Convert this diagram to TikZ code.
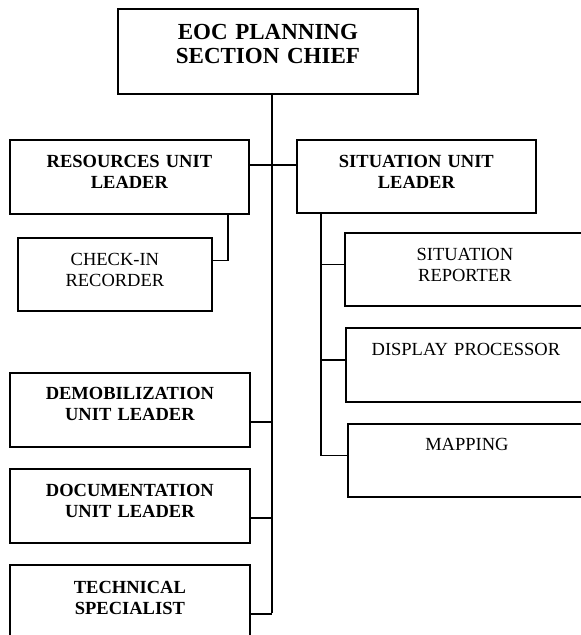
\documentclass[tikz,border=0pt]{standalone}
\usepackage{fontspec}
\setmainfont{Liberation Serif}
\usepackage{tikz}

\begin{document}
\begin{tikzpicture}[x=1pt,y=-1pt,
    unitbox/.style={draw,line width=1.8pt,inner sep=0pt,anchor=north west,align=center,
      font=\fontsize{18.5}{20.5}\selectfont\bfseries},
    staffbox/.style={unitbox,font=\fontsize{18.5}{20.5}\selectfont},
    link/.style={line width=1.8pt}]
    \useasboundingbox (0,0) rectangle (581,635);
    \clip (0,0) rectangle (581,635);
    % chief
    \node[unitbox,text width=300pt,text height=31pt,text depth=54pt,
      font=\fontsize{23}{23.5}\selectfont\bfseries] (chief) at (117,8) {EOC PLANNING\\SECTION CHIEF};
    % left column
    \node[unitbox,text width=239pt,text height=28pt,text depth=46pt] (res) at (9,139) {RESOURCES UNIT\\LEADER};
    \node[staffbox,text width=194pt,text height=28pt,text depth=45pt] (chk) at (17,237) {CHECK-IN\\RECORDER};
    \node[unitbox,text width=240pt,text height=27pt,text depth=47pt] (demob) at (9,372) {DEMOBILIZATION\\UNIT LEADER};
    \node[unitbox,text width=240pt,text height=28pt,text depth=46pt] (doc) at (9,468) {DOCUMENTATION\\UNIT LEADER};
    \node[unitbox,text width=240pt,text height=29pt,text depth=45pt] (tech) at (9,564) {TECHNICAL\\SPECIALIST};
    % right column
    \node[unitbox,text width=239pt,text height=28pt,text depth=45pt] (sit) at (296,139) {SITUATION UNIT\\LEADER};
    \node[staffbox,text width=240pt,text height=28pt,text depth=45pt] (rep) at (344,232) {SITUATION\\REPORTER};
    \node[staffbox,text width=240pt,text height=28pt,text depth=46pt] (disp) at (345,327) {DISPLAY PROCESSOR};
    \node[staffbox,text width=238pt,text height=27pt,text depth=46pt] (map) at (347,423) {MAPPING};
    % lines
    \coordinate (trunkend) at (272,613);
    \coordinate (sitbus) at ([xshift=25pt]sit.south west);
    \draw[link] (chief.south -| trunkend) -- (trunkend);
    \draw[link] ([yshift=12pt]res.east) -- ([yshift=12pt]res.east -| sit.west);
    \draw[link] ([xshift=-22pt]res.south east) |- ([yshift=14pt]chk.east);
    \foreach \n in {demob,doc,tech}
      \draw[link] ([yshift=-12pt]\n.east) -- ([yshift=-12pt]\n.east -| trunkend);
    \draw[link] (sitbus) |- ([yshift=5pt]map.west);
    \foreach \n in {rep,disp}
      \draw[link] ([yshift=5pt]\n.west) -- ([yshift=5pt]\n.west -| sitbus);
\end{tikzpicture}
\end{document}
